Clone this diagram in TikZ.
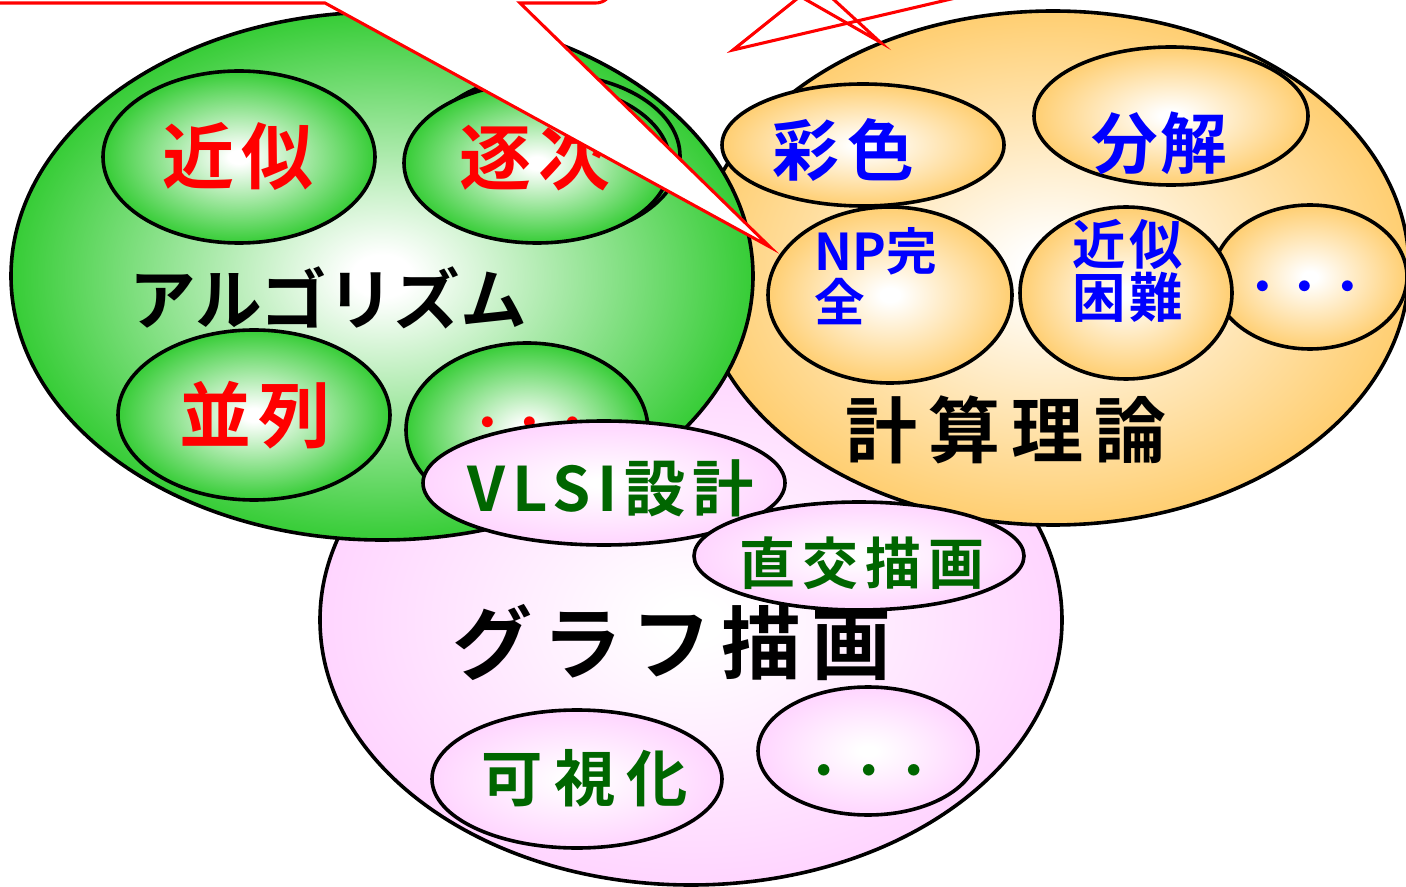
\documentclass[tikz,border=0pt]{standalone}
\usepackage{fontspec}
\usetikzlibrary{shapes.geometric}
\newfontfamily\jpb{Noto Sans CJK JP Bold}
\definecolor{gG}{RGB}{28,198,28}
\definecolor{oO}{RGB}{255,200,95}
\definecolor{pP}{RGB}{255,200,255}
\definecolor{tRed}{RGB}{255,0,0}
\definecolor{tBlue}{RGB}{0,0,255}
\definecolor{tGreen}{RGB}{0,102,0}
\pgfdeclareradialshading{gball}{\pgfpoint{0bp}{0bp}}{color(0bp)=(white); color(2bp)=(white); color(28bp)=(gG); color(50bp)=(gG)}
\pgfdeclareradialshading{oball}{\pgfpoint{0bp}{0bp}}{color(0bp)=(white); color(2bp)=(white); color(28bp)=(oO); color(50bp)=(oO)}
\pgfdeclareradialshading{pball}{\pgfpoint{0bp}{0bp}}{color(0bp)=(white); color(2bp)=(white); color(32bp)=(pP); color(50bp)=(pP)}
\tikzset{
  E/.style 2 args={ellipse, inner sep=0pt, outer sep=0pt, draw=black, line width=2.7pt,
    minimum width={1.5pt*#1}, minimum height={1.5pt*#2}},
  gsh/.style={shade, shading=gball},
  osh/.style={shade, shading=oball},
  psh/.style={shade, shading=pball},
  T/.style 2 args={inner sep=0pt, font={\jpb\fontsize{#1}{#1}\selectfont\addfontfeature{LetterSpace=#2}}},
  callout/.style={draw=red, line width=2.3pt, line join=miter},
}
\begin{document}
\begin{tikzpicture}[x=0.75pt, y=-0.75pt]
\useasboundingbox (0,0) rectangle (1406,887);
\clip (0,0) rectangle (1406,887);

% big regions
\node[E={371}{265}, psh] (P) at (691,620) {};
\node[E={356}{257}, osh] (O) at (1053,268) {};
\node[T={54}{15}] (tO) at (1006,430) {計算理論};

% theory subtopics
\node[E={141}{61}, osh] (a1) at (863,145) {};
\node[T={50}{12}, text=tBlue] (ta1) at (843,150) {彩色};
\node[E={137}{69}, osh] (a2) at (1171,116) {};
\node[T={50}{4}, text=tBlue] (ta2) at (1159,143) {分解};
\node[E={122}{88}, osh] (a3) at (890,295) {};
\node[T={38}{0}, text=tBlue, align=left] (ta3) at (876,276) {NP完\\全};
\node[E={97}{72}, osh] (a5) at (1310,277) {};
\node[T={32}{0}, text=tBlue] (ta5) at (1305,292) {・・・};
\node[E={106}{86}, osh] (a4) at (1126,293) {};
\node[T={40}{7}, text=tBlue, align=left] (ta4) at (1128,271) {近似\\困難};

% algorithm region
\node[E={371}{264}, gsh] (G) at (382,276) {};
\node[T={50}{0}] (tG) at (328,298) {アルゴリズム};
\node[E={130}{82}, gsh] (b0) at (550,156) {};
\node[E={133}{80}, gsh] (b2) at (537,163) {};
\node[T={54}{11}, text=tRed] (tb2) at (535,157) {逐次};
\node[E={136}{86}, gsh] (b1) at (239,157) {};
\node[T={54}{11}, text=tRed] (tb1) at (238,156) {近似};
\node[E={136}{85}, gsh] (b3) at (254,415) {};
\node[T={54}{11}, text=tRed] (tb3) at (255,415) {並列};
\node[E={121}{87}, gsh] (b4) at (527,430) {};
\node[T={32}{0}, text=tRed] (tb4) at (530,428) {・・・};

% graph drawing subtopics
\node[E={181}{62}, psh] (c1) at (604,483) {};
\node[T={46}{11}, text=tGreen] (tc1) at (611,488) {VLSI設計};
\node[E={165}{54}, psh] (c2) at (859,556) {};
\node[T={42}{12}, text=tGreen] (tc2) at (862,563) {直交描画};
\node[T={60}{12}] (tP) at (672,643) {グラフ描画};
\node[E={145}{69}, psh] (c3) at (577,779) {};
\node[T={46}{18}, text=tGreen] (tc3) at (585,778) {可視化};
\node[E={110}{64}, psh] (c4) at (868,751) {};
\node[T={34}{0}, text=tGreen] (tc4) at (869,776) {・・・};

% callouts
\coordinate (k1) at (770,247);
\fill[white] (-10,3) -- (325,3) -- (k1) -- (520,3) -- (612,3) -- (612,-30) -- (-10,-30) -- cycle;
\draw[callout] (-10,3) -- (325,3) -- (k1) -- (520,3) [rounded corners=12pt] -- (612,3) -- (612,-30);
\coordinate (k2) at (733,50);
\coordinate (k3) at (880,42);
\draw[callout] (798,-2) -- (k2) -- (1000,-12.4);
\draw[callout] (803,-2) -- (k3) -- (832,-2);
\end{tikzpicture}
\end{document}
